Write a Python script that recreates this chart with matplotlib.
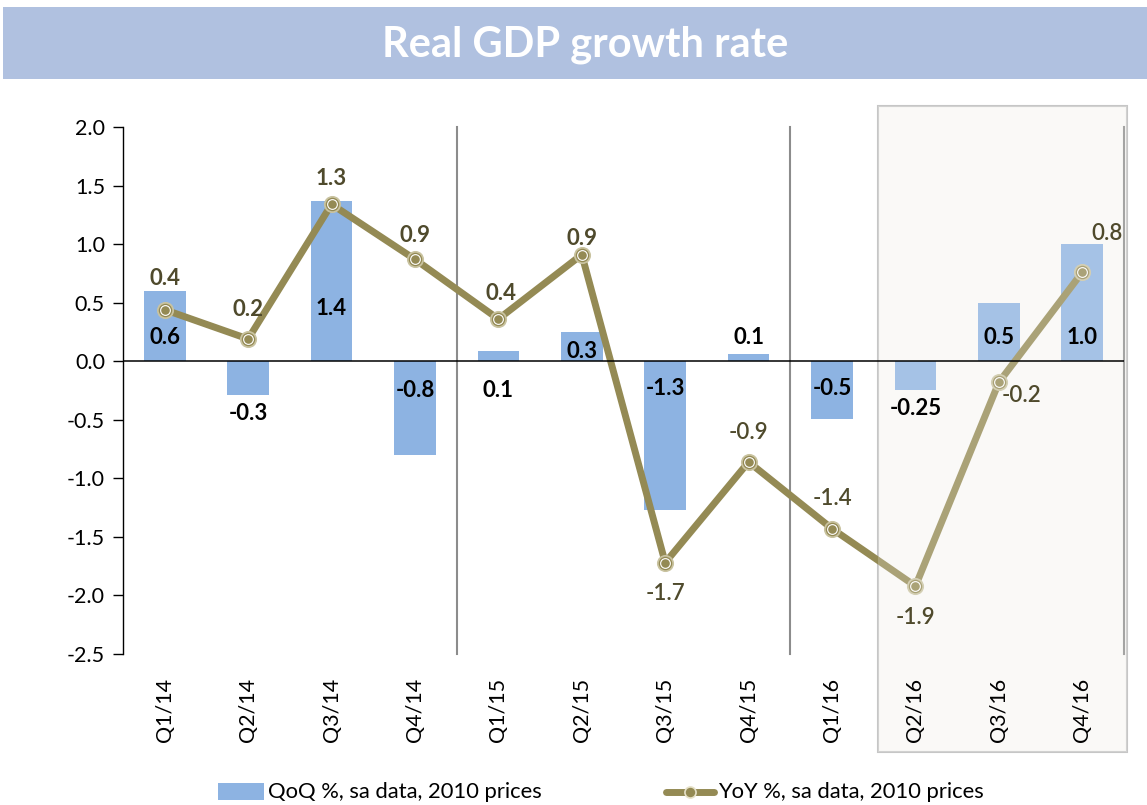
import matplotlib
matplotlib.use("Agg")
import matplotlib.pyplot as plt
from matplotlib.patches import Rectangle
import matplotlib.transforms as mtransforms

plt.rcParams['font.family'] = ['Lato', 'DejaVu Sans']

quarters = ['Q1/14', 'Q2/14', 'Q3/14', 'Q4/14', 'Q1/15', 'Q2/15',
            'Q3/15', 'Q4/15', 'Q1/16', 'Q2/16', 'Q3/16', 'Q4/16']
qoq = [0.60, -0.29, 1.37, -0.80, 0.09, 0.25, -1.27, 0.06, -0.49, -0.25, 0.50, 1.00]
yoy = [0.44, 0.19, 1.34, 0.87, 0.36, 0.91, -1.72, -0.86, -1.43, -1.92, -0.18, 0.76]
qoq_labels = ['0.6', '-0.3', '1.4', '-0.8', '0.1', '0.3', '-1.3', '0.1', '-0.5', '-0.25', '0.5', '1.0']
yoy_labels = ['0.4', '0.2', '1.3', '0.9', '0.4', '0.9', '-1.7', '-0.9', '-1.4', '-1.9', '-0.2', '0.8']

# label anchor heights (data units) and horizontal nudges
qoq_label_y = [0.20, -0.45, 0.45, -0.25, -0.25, 0.08, -0.23, 0.20, -0.23, -0.40, 0.20, 0.20]
yoy_label_y = [0.71, 0.44, 1.56, 1.07, 0.58, 1.05, -1.98, -0.61, -1.17, -2.19, -0.29, 1.09]
yoy_label_dx = [0, 0, 0, 0, 0.03, 0, 0, 0, 0, 0, 0.27, 0.30]
yoy_bold = [True] * 6 + [False] * 6

BAR_COLOR = '#8db3e2'
LINE_COLOR = '#948a54'
LABEL_OLIVE = '#4f4a2c'

fig = plt.figure(figsize=(11.47, 8.05), dpi=100)
ax = fig.add_axes([123 / 1147, 1 - 654 / 805, (1124 - 123) / 1147, (654 - 127) / 805])

x = list(range(len(quarters)))
ax.bar(x, qoq, width=0.5, color=BAR_COLOR, zorder=2)
ax.axhline(0, color='black', lw=1.1, zorder=5)
ax.plot(x, yoy, color=LINE_COLOR, lw=5, zorder=3, solid_joinstyle='miter')
ax.plot(x, yoy, ls='none', marker='o', ms=11, mfc=LINE_COLOR, mec='#c9c3a0', mew=1.3, zorder=3.2)
ax.plot(x, yoy, ls='none', marker='o', ms=7, mfc=LINE_COLOR, mec='white', mew=0.8, zorder=3.3)

for xi, lab, ly in zip(x, qoq_labels, qoq_label_y):
    ax.text(xi, ly, lab, ha='center', va='center', fontsize=16, fontweight='bold',
            color='black', zorder=7)
for xi, lab, ly, dx, b in zip(x, yoy_labels, yoy_label_y, yoy_label_dx, yoy_bold):
    ax.text(xi + dx, ly, lab, ha='center', va='center', fontsize=16,
            fontweight='bold' if b else 'semibold', color=LABEL_OLIVE, zorder=7)

# year separators
for sx in [3.5, 7.5, 11.5]:
    ax.plot([sx, sx], [-2.5, 2.0], color='#8c8c8c', lw=1.5, zorder=1, clip_on=False)

ax.set_xlim(-0.5, 11.5)
ax.set_ylim(-2.5, 2.0)
yticks = [2.0, 1.5, 1.0, 0.5, 0.0, -0.5, -1.0, -1.5, -2.0, -2.5]
ax.set_yticks(yticks)
ax.set_yticklabels(['%.1f' % v for v in yticks])
ax.set_xticks(x)
ax.set_xticklabels(quarters, rotation=90)
ax.tick_params(axis='y', length=7, width=1, labelsize=15.5, pad=6, colors='black')
ax.tick_params(axis='x', length=0, labelsize=15.5, pad=17)
ax.xaxis.set_zorder(8)
for s in ['top', 'right', 'bottom']:
    ax.spines[s].set_visible(False)
ax.spines['left'].set_linewidth(1)

# shaded block over the 2016 quarters
trans = mtransforms.blended_transform_factory(ax.transData, fig.transFigure)
x0, x1 = 8.55, 11.53
y0, y1 = 1 - 752 / 805, 1 - 106 / 805
ax.add_patch(Rectangle((x0, y0), x1 - x0, y1 - y0, transform=trans, facecolor='#fbfaf8',
                       alpha=0.22, edgecolor='none', zorder=4, clip_on=False))
ax.add_patch(Rectangle((x0, y0), x1 - x0, y1 - y0, transform=trans, facecolor='#faf9f7',
                       edgecolor='#c6c6c6', lw=1.5, zorder=0, clip_on=False))

# title banner
fig.patches.append(Rectangle((3 / 1147, 1 - 79 / 805), 1, 72 / 805, transform=fig.transFigure,
                             facecolor='#b0c1e0', edgecolor='none'))
fig.text(585 / 1147, 1 - 45 / 805, 'Real GDP growth rate', ha='center', va='center',
         fontsize=30, fontweight='bold', color='white')

# legend along the bottom
fig.patches.append(Rectangle((218 / 1147, 1 - 800 / 805), 46 / 1147, 17 / 805,
                             transform=fig.transFigure, facecolor=BAR_COLOR, edgecolor='none'))
fig.text(268 / 1147, 1 - 792 / 805, 'QoQ %, sa data, 2010 prices', ha='left', va='center',
         fontsize=15.8, color='black')
fig.add_artist(plt.Line2D([666 / 1147, 714 / 1147], [1 - 792 / 805] * 2, transform=fig.transFigure,
                          color=LINE_COLOR, lw=5, solid_capstyle='round'))
fig.add_artist(plt.Line2D([690 / 1147], [1 - 792 / 805], transform=fig.transFigure, marker='o',
                          ms=8, mfc=LINE_COLOR, mec='#e6e1c8', mew=1.2))
fig.text(718 / 1147, 1 - 792 / 805, 'YoY %, sa data, 2010 prices', ha='left', va='center',
         fontsize=15.8, color='black')

fig.savefig('out.png', dpi=100)
